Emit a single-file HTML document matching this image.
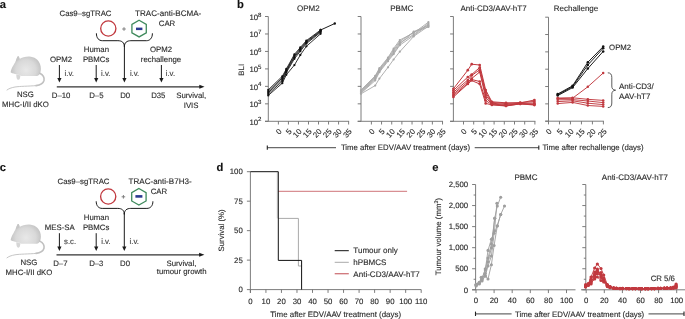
<!DOCTYPE html>
<html><head><meta charset="utf-8"><style>
html,body{margin:0;padding:0;background:#fff;width:685px;height:319px;overflow:hidden;}
svg{display:block;will-change:transform;}
text{text-rendering:geometricPrecision;font-family:"Liberation Sans",sans-serif;font-size:7.8px;fill:#2a2a2a;stroke:#2a2a2a;stroke-width:0.12px;}
</style></head><body>
<svg width="685" height="319" viewBox="0 0 685 319">
<defs><radialGradient id="mg" gradientUnits="userSpaceOnUse" cx="26" cy="70" r="18"><stop offset="0" stop-color="#e8e8e8"/><stop offset="0.55" stop-color="#d9d9d9"/><stop offset="1" stop-color="#b9b9b9"/></radialGradient></defs>
<rect width="685" height="319" fill="#fff"/>
<text x="-0.30" y="7.90" style="font-size:11.2px;fill:#111;stroke:#111;font-weight:bold" >a</text>
<text x="85.50" y="16.00" text-anchor="middle" >Cas9–sgTRAC</text>
<circle cx="108.3" cy="28.5" r="7.6" fill="none" stroke="#c1393f" stroke-width="1.35"/>
<line x1="122.20" y1="29.00" x2="125.80" y2="29.00" stroke="#7a7a7a" stroke-width="0.95" />
<line x1="124.00" y1="27.20" x2="124.00" y2="30.80" stroke="#7a7a7a" stroke-width="0.95" />
<polygon points="139.10,20.30 146.29,24.45 146.29,32.75 139.10,36.90 131.91,32.75 131.91,24.45" fill="none" stroke="#3f8a5c" stroke-width="1.3"/>
<rect x="136" y="27.6" width="6.4" height="2.5" fill="#2b3990"/>
<text x="168.20" y="16.00" text-anchor="middle" style="font-size:8.05px" >TRAC-anti-BCMA-</text>
<text x="167.00" y="25.70" text-anchor="middle" >CAR</text>
<path d="M96.4,33.3 C96.4,38.2 98.9,40.7 102.4,40.7 L117.9,40.7 C121.9,40.7 124.4,42.5 124.4,46.7 M152.4,33.3 C152.4,38.2 149.9,40.7 146.4,40.7 L130.9,40.7 C126.9,40.7 124.4,42.5 124.4,46.7" stroke="#1a1a1a" stroke-width="1" fill="none" />
<line x1="59.40" y1="65.00" x2="59.40" y2="79.00" stroke="#1a1a1a" stroke-width="1" />
<polygon points="57.30,77.90 61.50,77.90 59.40,82.50" fill="#1a1a1a"/>
<line x1="96.20" y1="65.00" x2="96.20" y2="79.00" stroke="#1a1a1a" stroke-width="1" />
<polygon points="94.10,77.90 98.30,77.90 96.20,82.50" fill="#1a1a1a"/>
<line x1="124.40" y1="45.00" x2="124.40" y2="79.00" stroke="#1a1a1a" stroke-width="1" />
<polygon points="122.30,77.90 126.50,77.90 124.40,82.50" fill="#1a1a1a"/>
<line x1="161.40" y1="65.00" x2="161.40" y2="79.00" stroke="#1a1a1a" stroke-width="1" />
<polygon points="159.30,77.90 163.50,77.90 161.40,82.50" fill="#1a1a1a"/>
<line x1="56.80" y1="86.80" x2="200.50" y2="86.80" stroke="#333" stroke-width="1.15" />
<polygon points="199.3,84.8 204.5,86.8 199.3,88.8" fill="#1a1a1a"/>
<text x="61.00" y="61.90" text-anchor="middle" >OPM2</text>
<text x="96.40" y="51.50" text-anchor="middle" >Human</text>
<text x="96.10" y="61.90" text-anchor="middle" >PBMCs</text>
<text x="161.00" y="51.90" text-anchor="middle" >OPM2</text>
<text x="161.00" y="61.60" text-anchor="middle" >rechallenge</text>
<text x="64.50" y="76.40" style="fill:#444;stroke:#444" >i.v.</text>
<text x="101.00" y="76.40" style="fill:#444;stroke:#444" >i.v.</text>
<text x="129.90" y="76.40" style="fill:#444;stroke:#444" >i.v.</text>
<text x="165.70" y="76.40" style="fill:#444;stroke:#444" >i.v.</text>
<text x="61.10" y="97.80" text-anchor="middle" >D–10</text>
<text x="96.40" y="97.80" text-anchor="middle" >D–5</text>
<text x="125.20" y="97.80" text-anchor="middle" >D0</text>
<text x="158.30" y="97.80" text-anchor="middle" >D35</text>
<text x="191.20" y="97.80" text-anchor="middle" >Survival,</text>
<text x="191.10" y="107.80" text-anchor="middle" >IVIS</text>
<text x="25.40" y="97.40" text-anchor="middle" >NSG</text>
<text x="25.50" y="106.80" text-anchor="middle" >MHC-I/II dKO</text>
<g transform="translate(0,0)"><path d="M10.7,72.0 C11.0,70.0 12.0,67.5 13.3,65.6 C14.0,64.3 14.8,63.0 15.5,61.8 L16.8,58.2 C17.2,57.0 17.8,56.2 18.3,56.3 C18.8,56.4 19.3,57.4 19.6,59.1 C21.5,57.8 25.0,56.7 29.0,56.6 C34.5,56.8 38.5,60.0 40.0,64.0 C41.2,67.2 41.2,70.8 40.0,73.5 C39.0,75.5 37.5,76.0 36.0,76.0 L22.0,76.0 C21.0,76.0 20.4,75.8 20.0,75.2 L16.5,74.3 C14.5,74.0 12.5,73.3 11.3,72.8 C10.9,72.6 10.6,72.3 10.7,72.0 Z" fill="url(#mg)"/><path d="M15.5,61.8 L16.8,58.2 C17.2,57.0 17.8,56.2 18.3,56.3 C18.8,56.4 19.3,57.4 19.6,59.1 C18.5,60.0 17.0,61.0 15.5,61.8 Z" fill="#c6c6c6"/><path d="M16.4,74.2 C16.2,76.0 16.4,78.2 17.2,79.3 C18.0,80.2 19.4,80.0 19.8,78.8 L20.5,75.6 Z" fill="#d6d6d6"/><path d="M39.8,73.3 C43.0,75.0 44.6,77.5 44.0,80.5 C43.3,83.0 40.5,85.0 36.0,85.6" stroke="#c0c0c0" stroke-width="1.6" fill="none" stroke-linecap="round"/><path d="M36.0,85.6 C28.0,86.3 20.0,86.2 15.0,87.0 C11.0,87.7 8.5,88.8 7.0,90.0" stroke="#c6c6c6" stroke-width="1.0" fill="none" stroke-linecap="round"/></g>
<text x="-0.30" y="170.90" style="font-size:11.2px;fill:#111;stroke:#111;font-weight:bold" >c</text>
<text x="83.50" y="184.00" text-anchor="middle" >Cas9–sgTRAC</text>
<circle cx="108.2" cy="196.5" r="7.6" fill="none" stroke="#c1393f" stroke-width="1.35"/>
<line x1="121.60" y1="196.80" x2="125.20" y2="196.80" stroke="#7a7a7a" stroke-width="0.95" />
<line x1="123.40" y1="195.00" x2="123.40" y2="198.60" stroke="#7a7a7a" stroke-width="0.95" />
<polygon points="138.90,188.50 146.09,192.65 146.09,200.95 138.90,205.10 131.71,200.95 131.71,192.65" fill="none" stroke="#3f8a5c" stroke-width="1.3"/>
<rect x="135.4" y="195.1" width="7.0" height="2.6" fill="#2b3990"/>
<text x="160.10" y="184.00" text-anchor="middle" style="font-size:8.05px" >TRAC-anti-B7H3-</text>
<text x="158.90" y="193.60" text-anchor="middle" >CAR</text>
<path d="M96.2,201.3 C96.2,205.9 98.7,208.4 102.2,208.4 L117.8,208.4 C121.8,208.4 124.3,210.20000000000002 124.3,214.4 M152.9,201.3 C152.9,205.9 150.4,208.4 146.9,208.4 L130.8,208.4 C126.8,208.4 124.3,210.20000000000002 124.3,214.4" stroke="#1a1a1a" stroke-width="1" fill="none" />
<line x1="59.40" y1="233.20" x2="59.40" y2="247.50" stroke="#1a1a1a" stroke-width="1" />
<polygon points="57.30,246.40 61.50,246.40 59.40,251.00" fill="#1a1a1a"/>
<line x1="96.20" y1="233.20" x2="96.20" y2="247.50" stroke="#1a1a1a" stroke-width="1" />
<polygon points="94.10,246.40 98.30,246.40 96.20,251.00" fill="#1a1a1a"/>
<line x1="124.30" y1="213.00" x2="124.30" y2="247.50" stroke="#1a1a1a" stroke-width="1" />
<polygon points="122.20,246.40 126.40,246.40 124.30,251.00" fill="#1a1a1a"/>
<line x1="56.50" y1="254.80" x2="200.30" y2="254.80" stroke="#333" stroke-width="1.15" />
<polygon points="199.1,252.8 204.4,254.8 199.1,256.8" fill="#1a1a1a"/>
<text x="59.75" y="229.80" text-anchor="middle" >MES-SA</text>
<text x="96.40" y="219.80" text-anchor="middle" >Human</text>
<text x="96.10" y="229.80" text-anchor="middle" >PBMCs</text>
<text x="64.00" y="244.40" style="fill:#444;stroke:#444" >s.c.</text>
<text x="101.20" y="244.40" style="fill:#444;stroke:#444" >i.v.</text>
<text x="129.60" y="244.40" style="fill:#444;stroke:#444" >i.v.</text>
<text x="60.40" y="265.70" text-anchor="middle" >D–7</text>
<text x="96.30" y="265.70" text-anchor="middle" >D–3</text>
<text x="125.10" y="265.70" text-anchor="middle" >D0</text>
<text x="181.40" y="265.70" text-anchor="middle" >Survival,</text>
<text x="181.70" y="274.40" text-anchor="middle" >tumour growth</text>
<text x="28.90" y="265.20" text-anchor="middle" >NSG</text>
<text x="29.00" y="274.70" text-anchor="middle" >MHC-I/II dKO</text>
<g transform="translate(0,167.8)"><path d="M10.7,72.0 C11.0,70.0 12.0,67.5 13.3,65.6 C14.0,64.3 14.8,63.0 15.5,61.8 L16.8,58.2 C17.2,57.0 17.8,56.2 18.3,56.3 C18.8,56.4 19.3,57.4 19.6,59.1 C21.5,57.8 25.0,56.7 29.0,56.6 C34.5,56.8 38.5,60.0 40.0,64.0 C41.2,67.2 41.2,70.8 40.0,73.5 C39.0,75.5 37.5,76.0 36.0,76.0 L22.0,76.0 C21.0,76.0 20.4,75.8 20.0,75.2 L16.5,74.3 C14.5,74.0 12.5,73.3 11.3,72.8 C10.9,72.6 10.6,72.3 10.7,72.0 Z" fill="url(#mg)"/><path d="M15.5,61.8 L16.8,58.2 C17.2,57.0 17.8,56.2 18.3,56.3 C18.8,56.4 19.3,57.4 19.6,59.1 C18.5,60.0 17.0,61.0 15.5,61.8 Z" fill="#c6c6c6"/><path d="M16.4,74.2 C16.2,76.0 16.4,78.2 17.2,79.3 C18.0,80.2 19.4,80.0 19.8,78.8 L20.5,75.6 Z" fill="#d6d6d6"/><path d="M39.8,73.3 C43.0,75.0 44.6,77.5 44.0,80.5 C43.3,83.0 40.5,85.0 36.0,85.6" stroke="#c0c0c0" stroke-width="1.6" fill="none" stroke-linecap="round"/><path d="M36.0,85.6 C28.0,86.3 20.0,86.2 15.0,87.0 C11.0,87.7 8.5,88.8 7.0,90.0" stroke="#c6c6c6" stroke-width="1.0" fill="none" stroke-linecap="round"/></g>
<text x="237.00" y="7.60" style="font-size:11.2px;fill:#111;stroke:#111;font-weight:bold" >b</text>
<text x="308.40" y="10.90" text-anchor="middle" style="font-size:8.0px" >OPM2</text>
<text x="401.80" y="10.90" text-anchor="middle" style="font-size:8.0px" >PBMC</text>
<text x="493.60" y="10.90" text-anchor="middle" style="font-size:8.0px" >Anti-CD3/AAV-hT7</text>
<text x="576.00" y="10.90" text-anchor="middle" style="font-size:8.0px" >Rechallenge</text>
<line x1="268.30" y1="16.50" x2="268.30" y2="121.30" stroke="#6e6e6e" stroke-width="0.9" />
<line x1="265.00" y1="16.50" x2="268.30" y2="16.50" stroke="#6e6e6e" stroke-width="0.9" />
<line x1="265.00" y1="33.97" x2="268.30" y2="33.97" stroke="#6e6e6e" stroke-width="0.9" />
<line x1="265.00" y1="51.43" x2="268.30" y2="51.43" stroke="#6e6e6e" stroke-width="0.9" />
<line x1="265.00" y1="68.90" x2="268.30" y2="68.90" stroke="#6e6e6e" stroke-width="0.9" />
<line x1="265.00" y1="86.37" x2="268.30" y2="86.37" stroke="#6e6e6e" stroke-width="0.9" />
<line x1="265.00" y1="103.83" x2="268.30" y2="103.83" stroke="#6e6e6e" stroke-width="0.9" />
<line x1="265.00" y1="121.30" x2="268.30" y2="121.30" stroke="#6e6e6e" stroke-width="0.9" />
<line x1="265.00" y1="121.30" x2="349.11" y2="121.30" stroke="#6e6e6e" stroke-width="0.9" />
<line x1="278.40" y1="121.30" x2="278.40" y2="124.50" stroke="#6e6e6e" stroke-width="0.9" />
<text transform="translate(282.10,131.80) rotate(-47)" text-anchor="end" style="font-size:7.8px">0</text>
<line x1="288.43" y1="121.30" x2="288.43" y2="124.50" stroke="#6e6e6e" stroke-width="0.9" />
<text transform="translate(292.13,131.80) rotate(-47)" text-anchor="end" style="font-size:7.8px">5</text>
<line x1="298.46" y1="121.30" x2="298.46" y2="124.50" stroke="#6e6e6e" stroke-width="0.9" />
<text transform="translate(302.16,131.80) rotate(-47)" text-anchor="end" style="font-size:7.8px">10</text>
<line x1="308.49" y1="121.30" x2="308.49" y2="124.50" stroke="#6e6e6e" stroke-width="0.9" />
<text transform="translate(312.19,131.80) rotate(-47)" text-anchor="end" style="font-size:7.8px">15</text>
<line x1="318.52" y1="121.30" x2="318.52" y2="124.50" stroke="#6e6e6e" stroke-width="0.9" />
<text transform="translate(322.22,131.80) rotate(-47)" text-anchor="end" style="font-size:7.8px">20</text>
<line x1="328.55" y1="121.30" x2="328.55" y2="124.50" stroke="#6e6e6e" stroke-width="0.9" />
<text transform="translate(332.25,131.80) rotate(-47)" text-anchor="end" style="font-size:7.8px">25</text>
<line x1="338.58" y1="121.30" x2="338.58" y2="124.50" stroke="#6e6e6e" stroke-width="0.9" />
<text transform="translate(342.28,131.80) rotate(-47)" text-anchor="end" style="font-size:7.8px">30</text>
<line x1="348.61" y1="121.30" x2="348.61" y2="124.50" stroke="#6e6e6e" stroke-width="0.9" />
<text transform="translate(352.31,131.80) rotate(-47)" text-anchor="end" style="font-size:7.8px">35</text>
<line x1="361.00" y1="16.50" x2="361.00" y2="121.30" stroke="#6e6e6e" stroke-width="0.9" />
<line x1="357.70" y1="16.50" x2="361.00" y2="16.50" stroke="#6e6e6e" stroke-width="0.9" />
<line x1="357.70" y1="33.97" x2="361.00" y2="33.97" stroke="#6e6e6e" stroke-width="0.9" />
<line x1="357.70" y1="51.43" x2="361.00" y2="51.43" stroke="#6e6e6e" stroke-width="0.9" />
<line x1="357.70" y1="68.90" x2="361.00" y2="68.90" stroke="#6e6e6e" stroke-width="0.9" />
<line x1="357.70" y1="86.37" x2="361.00" y2="86.37" stroke="#6e6e6e" stroke-width="0.9" />
<line x1="357.70" y1="103.83" x2="361.00" y2="103.83" stroke="#6e6e6e" stroke-width="0.9" />
<line x1="357.70" y1="121.30" x2="361.00" y2="121.30" stroke="#6e6e6e" stroke-width="0.9" />
<line x1="357.70" y1="121.30" x2="443.02" y2="121.30" stroke="#6e6e6e" stroke-width="0.9" />
<line x1="371.40" y1="121.30" x2="371.40" y2="124.50" stroke="#6e6e6e" stroke-width="0.9" />
<text transform="translate(375.10,131.80) rotate(-47)" text-anchor="end" style="font-size:7.8px">0</text>
<line x1="381.56" y1="121.30" x2="381.56" y2="124.50" stroke="#6e6e6e" stroke-width="0.9" />
<text transform="translate(385.26,131.80) rotate(-47)" text-anchor="end" style="font-size:7.8px">5</text>
<line x1="391.72" y1="121.30" x2="391.72" y2="124.50" stroke="#6e6e6e" stroke-width="0.9" />
<text transform="translate(395.42,131.80) rotate(-47)" text-anchor="end" style="font-size:7.8px">10</text>
<line x1="401.88" y1="121.30" x2="401.88" y2="124.50" stroke="#6e6e6e" stroke-width="0.9" />
<text transform="translate(405.58,131.80) rotate(-47)" text-anchor="end" style="font-size:7.8px">15</text>
<line x1="412.04" y1="121.30" x2="412.04" y2="124.50" stroke="#6e6e6e" stroke-width="0.9" />
<text transform="translate(415.74,131.80) rotate(-47)" text-anchor="end" style="font-size:7.8px">20</text>
<line x1="422.20" y1="121.30" x2="422.20" y2="124.50" stroke="#6e6e6e" stroke-width="0.9" />
<text transform="translate(425.90,131.80) rotate(-47)" text-anchor="end" style="font-size:7.8px">25</text>
<line x1="432.36" y1="121.30" x2="432.36" y2="124.50" stroke="#6e6e6e" stroke-width="0.9" />
<text transform="translate(436.06,131.80) rotate(-47)" text-anchor="end" style="font-size:7.8px">30</text>
<line x1="442.52" y1="121.30" x2="442.52" y2="124.50" stroke="#6e6e6e" stroke-width="0.9" />
<text transform="translate(446.22,131.80) rotate(-47)" text-anchor="end" style="font-size:7.8px">35</text>
<line x1="453.40" y1="16.50" x2="453.40" y2="121.30" stroke="#6e6e6e" stroke-width="0.9" />
<line x1="450.10" y1="16.50" x2="453.40" y2="16.50" stroke="#6e6e6e" stroke-width="0.9" />
<line x1="450.10" y1="33.97" x2="453.40" y2="33.97" stroke="#6e6e6e" stroke-width="0.9" />
<line x1="450.10" y1="51.43" x2="453.40" y2="51.43" stroke="#6e6e6e" stroke-width="0.9" />
<line x1="450.10" y1="68.90" x2="453.40" y2="68.90" stroke="#6e6e6e" stroke-width="0.9" />
<line x1="450.10" y1="86.37" x2="453.40" y2="86.37" stroke="#6e6e6e" stroke-width="0.9" />
<line x1="450.10" y1="103.83" x2="453.40" y2="103.83" stroke="#6e6e6e" stroke-width="0.9" />
<line x1="450.10" y1="121.30" x2="453.40" y2="121.30" stroke="#6e6e6e" stroke-width="0.9" />
<line x1="450.10" y1="121.30" x2="535.40" y2="121.30" stroke="#6e6e6e" stroke-width="0.9" />
<line x1="463.50" y1="121.30" x2="463.50" y2="124.50" stroke="#6e6e6e" stroke-width="0.9" />
<text transform="translate(467.20,131.80) rotate(-47)" text-anchor="end" style="font-size:7.8px">0</text>
<line x1="473.70" y1="121.30" x2="473.70" y2="124.50" stroke="#6e6e6e" stroke-width="0.9" />
<text transform="translate(477.40,131.80) rotate(-47)" text-anchor="end" style="font-size:7.8px">5</text>
<line x1="483.90" y1="121.30" x2="483.90" y2="124.50" stroke="#6e6e6e" stroke-width="0.9" />
<text transform="translate(487.60,131.80) rotate(-47)" text-anchor="end" style="font-size:7.8px">10</text>
<line x1="494.10" y1="121.30" x2="494.10" y2="124.50" stroke="#6e6e6e" stroke-width="0.9" />
<text transform="translate(497.80,131.80) rotate(-47)" text-anchor="end" style="font-size:7.8px">15</text>
<line x1="504.30" y1="121.30" x2="504.30" y2="124.50" stroke="#6e6e6e" stroke-width="0.9" />
<text transform="translate(508.00,131.80) rotate(-47)" text-anchor="end" style="font-size:7.8px">20</text>
<line x1="514.50" y1="121.30" x2="514.50" y2="124.50" stroke="#6e6e6e" stroke-width="0.9" />
<text transform="translate(518.20,131.80) rotate(-47)" text-anchor="end" style="font-size:7.8px">25</text>
<line x1="524.70" y1="121.30" x2="524.70" y2="124.50" stroke="#6e6e6e" stroke-width="0.9" />
<text transform="translate(528.40,131.80) rotate(-47)" text-anchor="end" style="font-size:7.8px">30</text>
<line x1="534.90" y1="121.30" x2="534.90" y2="124.50" stroke="#6e6e6e" stroke-width="0.9" />
<text transform="translate(538.60,131.80) rotate(-47)" text-anchor="end" style="font-size:7.8px">35</text>
<line x1="548.50" y1="17.20" x2="548.50" y2="121.20" stroke="#6e6e6e" stroke-width="0.9" />
<line x1="545.20" y1="17.20" x2="548.50" y2="17.20" stroke="#6e6e6e" stroke-width="0.9" />
<line x1="545.20" y1="34.53" x2="548.50" y2="34.53" stroke="#6e6e6e" stroke-width="0.9" />
<line x1="545.20" y1="51.87" x2="548.50" y2="51.87" stroke="#6e6e6e" stroke-width="0.9" />
<line x1="545.20" y1="69.20" x2="548.50" y2="69.20" stroke="#6e6e6e" stroke-width="0.9" />
<line x1="545.20" y1="86.53" x2="548.50" y2="86.53" stroke="#6e6e6e" stroke-width="0.9" />
<line x1="545.20" y1="103.87" x2="548.50" y2="103.87" stroke="#6e6e6e" stroke-width="0.9" />
<line x1="545.20" y1="121.20" x2="548.50" y2="121.20" stroke="#6e6e6e" stroke-width="0.9" />
<line x1="545.20" y1="121.20" x2="603.90" y2="121.20" stroke="#6e6e6e" stroke-width="0.9" />
<line x1="548.50" y1="121.20" x2="548.50" y2="124.40" stroke="#6e6e6e" stroke-width="0.9" />
<text transform="translate(552.20,131.70) rotate(-47)" text-anchor="end" style="font-size:7.8px">0</text>
<line x1="559.48" y1="121.20" x2="559.48" y2="124.40" stroke="#6e6e6e" stroke-width="0.9" />
<text transform="translate(563.18,131.70) rotate(-47)" text-anchor="end" style="font-size:7.8px">5</text>
<line x1="570.46" y1="121.20" x2="570.46" y2="124.40" stroke="#6e6e6e" stroke-width="0.9" />
<text transform="translate(574.16,131.70) rotate(-47)" text-anchor="end" style="font-size:7.8px">10</text>
<line x1="581.44" y1="121.20" x2="581.44" y2="124.40" stroke="#6e6e6e" stroke-width="0.9" />
<text transform="translate(585.14,131.70) rotate(-47)" text-anchor="end" style="font-size:7.8px">15</text>
<line x1="592.42" y1="121.20" x2="592.42" y2="124.40" stroke="#6e6e6e" stroke-width="0.9" />
<text transform="translate(596.12,131.70) rotate(-47)" text-anchor="end" style="font-size:7.8px">20</text>
<line x1="603.40" y1="121.20" x2="603.40" y2="124.40" stroke="#6e6e6e" stroke-width="0.9" />
<text transform="translate(607.10,131.70) rotate(-47)" text-anchor="end" style="font-size:7.8px">25</text>
<text x="258.10" y="19.90" text-anchor="end">10</text><text x="258.00" y="16.60" style="font-size:6.1px">8</text>
<text x="258.10" y="37.37" text-anchor="end">10</text><text x="258.00" y="34.07" style="font-size:6.1px">7</text>
<text x="258.10" y="54.83" text-anchor="end">10</text><text x="258.00" y="51.53" style="font-size:6.1px">6</text>
<text x="258.10" y="72.30" text-anchor="end">10</text><text x="258.00" y="69.00" style="font-size:6.1px">5</text>
<text x="258.10" y="89.77" text-anchor="end">10</text><text x="258.00" y="86.47" style="font-size:6.1px">4</text>
<text x="258.10" y="107.23" text-anchor="end">10</text><text x="258.00" y="103.93" style="font-size:6.1px">3</text>
<text x="258.10" y="124.70" text-anchor="end">10</text><text x="258.00" y="121.40" style="font-size:6.1px">2</text>
<text transform="translate(243.9,69.8) rotate(-90)" text-anchor="middle">BLI</text>
<line x1="267.30" y1="147.50" x2="336.00" y2="147.50" stroke="#6a6a6a" stroke-width="1.25" />
<line x1="267.30" y1="145.40" x2="267.30" y2="149.80" stroke="#222" stroke-width="1.1" />
<text x="340.90" y="150.40" >Time after EDV/AAV treatment (days)</text>
<line x1="474.70" y1="147.50" x2="538.80" y2="147.50" stroke="#6a6a6a" stroke-width="1.25" />
<line x1="538.80" y1="145.40" x2="538.80" y2="149.80" stroke="#222" stroke-width="1.1" />
<text x="542.40" y="150.40" >Time after rechallenge (days)</text>
<path d="M268.30,89.80 L282.30,76.30 L286.30,69.00 L294.40,54.40 L300.30,47.50 L306.40,40.60 L320.60,30.00" stroke="#111" stroke-width="0.85" fill="none"  stroke-linejoin="round"/>
<circle cx="268.30" cy="89.80" r="1.15" fill="#111"/>
<circle cx="282.30" cy="76.30" r="1.15" fill="#111"/>
<circle cx="286.30" cy="69.00" r="1.15" fill="#111"/>
<circle cx="294.40" cy="54.40" r="1.15" fill="#111"/>
<circle cx="300.30" cy="47.50" r="1.15" fill="#111"/>
<circle cx="306.40" cy="40.60" r="1.15" fill="#111"/>
<circle cx="320.60" cy="30.00" r="1.15" fill="#111"/>
<path d="M268.30,91.20 L282.30,77.80 L286.30,70.20 L294.40,55.80 L300.30,48.60 L306.40,41.50 L320.60,30.80" stroke="#111" stroke-width="0.85" fill="none"  stroke-linejoin="round"/>
<circle cx="268.30" cy="91.20" r="1.15" fill="#111"/>
<circle cx="282.30" cy="77.80" r="1.15" fill="#111"/>
<circle cx="286.30" cy="70.20" r="1.15" fill="#111"/>
<circle cx="294.40" cy="55.80" r="1.15" fill="#111"/>
<circle cx="300.30" cy="48.60" r="1.15" fill="#111"/>
<circle cx="306.40" cy="41.50" r="1.15" fill="#111"/>
<circle cx="320.60" cy="30.80" r="1.15" fill="#111"/>
<path d="M268.30,92.60 L282.30,79.40 L286.30,71.40 L294.40,57.20 L300.30,49.80 L306.40,42.50 L320.60,31.50" stroke="#111" stroke-width="0.85" fill="none"  stroke-linejoin="round"/>
<circle cx="268.30" cy="92.60" r="1.15" fill="#111"/>
<circle cx="282.30" cy="79.40" r="1.15" fill="#111"/>
<circle cx="286.30" cy="71.40" r="1.15" fill="#111"/>
<circle cx="294.40" cy="57.20" r="1.15" fill="#111"/>
<circle cx="300.30" cy="49.80" r="1.15" fill="#111"/>
<circle cx="306.40" cy="42.50" r="1.15" fill="#111"/>
<circle cx="320.60" cy="31.50" r="1.15" fill="#111"/>
<path d="M268.30,94.00 L282.30,81.20 L286.30,72.60 L294.40,58.80 L300.30,51.20 L306.40,43.60 L320.60,32.30" stroke="#111" stroke-width="0.85" fill="none"  stroke-linejoin="round"/>
<circle cx="268.30" cy="94.00" r="1.15" fill="#111"/>
<circle cx="282.30" cy="81.20" r="1.15" fill="#111"/>
<circle cx="286.30" cy="72.60" r="1.15" fill="#111"/>
<circle cx="294.40" cy="58.80" r="1.15" fill="#111"/>
<circle cx="300.30" cy="51.20" r="1.15" fill="#111"/>
<circle cx="306.40" cy="43.60" r="1.15" fill="#111"/>
<circle cx="320.60" cy="32.30" r="1.15" fill="#111"/>
<path d="M268.30,95.40 L282.30,83.20 L286.30,74.80 L294.40,65.10 L300.30,55.00 L306.40,46.30 L320.60,33.80" stroke="#111" stroke-width="0.85" fill="none"  stroke-linejoin="round"/>
<circle cx="268.30" cy="95.40" r="1.15" fill="#111"/>
<circle cx="282.30" cy="83.20" r="1.15" fill="#111"/>
<circle cx="286.30" cy="74.80" r="1.15" fill="#111"/>
<circle cx="294.40" cy="65.10" r="1.15" fill="#111"/>
<circle cx="300.30" cy="55.00" r="1.15" fill="#111"/>
<circle cx="306.40" cy="46.30" r="1.15" fill="#111"/>
<circle cx="320.60" cy="33.80" r="1.15" fill="#111"/>
<path d="M320.60,30.00 L334.80,23.50" stroke="#111" stroke-width="0.95" fill="none"  stroke-linejoin="round"/>
<circle cx="320.60" cy="30.00" r="1.2" fill="#111"/>
<circle cx="334.80" cy="23.50" r="1.2" fill="#111"/>
<path d="M361.00,90.00 L375.20,75.80 L379.40,68.20 L388.00,57.60 L393.60,48.50 L399.80,40.00 L413.70,33.00 L428.40,22.20" stroke="#a8a8a8" stroke-width="0.9" fill="none"  stroke-linejoin="round"/>
<circle cx="361.00" cy="90.00" r="1.1" fill="#a8a8a8"/>
<circle cx="375.20" cy="75.80" r="1.1" fill="#a8a8a8"/>
<circle cx="379.40" cy="68.20" r="1.1" fill="#a8a8a8"/>
<circle cx="388.00" cy="57.60" r="1.1" fill="#a8a8a8"/>
<circle cx="393.60" cy="48.50" r="1.1" fill="#a8a8a8"/>
<circle cx="399.80" cy="40.00" r="1.1" fill="#a8a8a8"/>
<circle cx="413.70" cy="33.00" r="1.1" fill="#a8a8a8"/>
<circle cx="428.40" cy="22.20" r="1.1" fill="#a8a8a8"/>
<path d="M361.00,91.00 L375.20,76.80 L379.40,69.20 L388.00,58.50 L393.60,50.00 L399.80,41.50 L413.70,32.00 L428.40,27.00" stroke="#a8a8a8" stroke-width="0.9" fill="none"  stroke-linejoin="round"/>
<circle cx="361.00" cy="91.00" r="1.1" fill="#a8a8a8"/>
<circle cx="375.20" cy="76.80" r="1.1" fill="#a8a8a8"/>
<circle cx="379.40" cy="69.20" r="1.1" fill="#a8a8a8"/>
<circle cx="388.00" cy="58.50" r="1.1" fill="#a8a8a8"/>
<circle cx="393.60" cy="50.00" r="1.1" fill="#a8a8a8"/>
<circle cx="399.80" cy="41.50" r="1.1" fill="#a8a8a8"/>
<circle cx="413.70" cy="32.00" r="1.1" fill="#a8a8a8"/>
<circle cx="428.40" cy="27.00" r="1.1" fill="#a8a8a8"/>
<path d="M361.00,91.80 L375.20,78.00 L379.40,70.20 L388.00,59.30 L393.60,51.50 L399.80,42.80 L413.70,34.50 L428.40,23.50" stroke="#a8a8a8" stroke-width="0.9" fill="none"  stroke-linejoin="round"/>
<circle cx="361.00" cy="91.80" r="1.1" fill="#a8a8a8"/>
<circle cx="375.20" cy="78.00" r="1.1" fill="#a8a8a8"/>
<circle cx="379.40" cy="70.20" r="1.1" fill="#a8a8a8"/>
<circle cx="388.00" cy="59.30" r="1.1" fill="#a8a8a8"/>
<circle cx="393.60" cy="51.50" r="1.1" fill="#a8a8a8"/>
<circle cx="399.80" cy="42.80" r="1.1" fill="#a8a8a8"/>
<circle cx="413.70" cy="34.50" r="1.1" fill="#a8a8a8"/>
<circle cx="428.40" cy="23.50" r="1.1" fill="#a8a8a8"/>
<path d="M361.00,92.60 L375.20,79.20 L379.40,71.20 L388.00,60.20 L393.60,53.00 L399.80,44.20 L413.70,31.60 L428.40,25.50" stroke="#a8a8a8" stroke-width="0.9" fill="none"  stroke-linejoin="round"/>
<circle cx="361.00" cy="92.60" r="1.1" fill="#a8a8a8"/>
<circle cx="375.20" cy="79.20" r="1.1" fill="#a8a8a8"/>
<circle cx="379.40" cy="71.20" r="1.1" fill="#a8a8a8"/>
<circle cx="388.00" cy="60.20" r="1.1" fill="#a8a8a8"/>
<circle cx="393.60" cy="53.00" r="1.1" fill="#a8a8a8"/>
<circle cx="399.80" cy="44.20" r="1.1" fill="#a8a8a8"/>
<circle cx="413.70" cy="31.60" r="1.1" fill="#a8a8a8"/>
<circle cx="428.40" cy="25.50" r="1.1" fill="#a8a8a8"/>
<path d="M361.00,93.20 L375.20,80.50 L379.40,72.20 L388.00,61.20 L393.60,54.20 L399.80,45.20 L413.70,35.50 L428.40,24.50" stroke="#a8a8a8" stroke-width="0.9" fill="none"  stroke-linejoin="round"/>
<circle cx="361.00" cy="93.20" r="1.1" fill="#a8a8a8"/>
<circle cx="375.20" cy="80.50" r="1.1" fill="#a8a8a8"/>
<circle cx="379.40" cy="72.20" r="1.1" fill="#a8a8a8"/>
<circle cx="388.00" cy="61.20" r="1.1" fill="#a8a8a8"/>
<circle cx="393.60" cy="54.20" r="1.1" fill="#a8a8a8"/>
<circle cx="399.80" cy="45.20" r="1.1" fill="#a8a8a8"/>
<circle cx="413.70" cy="35.50" r="1.1" fill="#a8a8a8"/>
<circle cx="428.40" cy="24.50" r="1.1" fill="#a8a8a8"/>
<path d="M361.00,93.80 L375.20,85.60 L379.40,78.60 L388.00,67.30 L393.60,59.50 L399.80,51.70 L413.70,36.40 L428.40,26.20" stroke="#a8a8a8" stroke-width="0.9" fill="none"  stroke-linejoin="round"/>
<circle cx="361.00" cy="93.80" r="1.1" fill="#a8a8a8"/>
<circle cx="375.20" cy="85.60" r="1.1" fill="#a8a8a8"/>
<circle cx="379.40" cy="78.60" r="1.1" fill="#a8a8a8"/>
<circle cx="388.00" cy="67.30" r="1.1" fill="#a8a8a8"/>
<circle cx="393.60" cy="59.50" r="1.1" fill="#a8a8a8"/>
<circle cx="399.80" cy="51.70" r="1.1" fill="#a8a8a8"/>
<circle cx="413.70" cy="36.40" r="1.1" fill="#a8a8a8"/>
<circle cx="428.40" cy="26.20" r="1.1" fill="#a8a8a8"/>
<path d="M453.40,88.80 L467.80,70.20 L471.70,64.20 L479.70,65.00 L485.70,90.00 L491.90,101.80 L506.00,102.80 L520.20,103.00 L534.40,100.00" stroke="#c1393f" stroke-width="1.0" fill="none"  stroke-linejoin="round"/>
<circle cx="453.40" cy="88.80" r="1.35" fill="#c1393f"/>
<circle cx="467.80" cy="70.20" r="1.35" fill="#c1393f"/>
<circle cx="471.70" cy="64.20" r="1.35" fill="#c1393f"/>
<circle cx="479.70" cy="65.00" r="1.35" fill="#c1393f"/>
<circle cx="485.70" cy="90.00" r="1.35" fill="#c1393f"/>
<circle cx="491.90" cy="101.80" r="1.35" fill="#c1393f"/>
<circle cx="506.00" cy="102.80" r="1.35" fill="#c1393f"/>
<circle cx="520.20" cy="103.00" r="1.35" fill="#c1393f"/>
<circle cx="534.40" cy="100.00" r="1.35" fill="#c1393f"/>
<path d="M453.40,90.50 L467.80,77.00 L471.70,74.50 L479.70,67.50 L485.70,92.50 L491.90,102.50 L506.00,103.50 L520.20,102.50 L534.40,101.50" stroke="#c1393f" stroke-width="1.0" fill="none"  stroke-linejoin="round"/>
<circle cx="453.40" cy="90.50" r="1.35" fill="#c1393f"/>
<circle cx="467.80" cy="77.00" r="1.35" fill="#c1393f"/>
<circle cx="471.70" cy="74.50" r="1.35" fill="#c1393f"/>
<circle cx="479.70" cy="67.50" r="1.35" fill="#c1393f"/>
<circle cx="485.70" cy="92.50" r="1.35" fill="#c1393f"/>
<circle cx="491.90" cy="102.50" r="1.35" fill="#c1393f"/>
<circle cx="506.00" cy="103.50" r="1.35" fill="#c1393f"/>
<circle cx="520.20" cy="102.50" r="1.35" fill="#c1393f"/>
<circle cx="534.40" cy="101.50" r="1.35" fill="#c1393f"/>
<path d="M453.40,92.30 L467.80,80.00 L471.70,75.50 L479.70,69.80 L485.70,95.00 L491.90,103.20 L506.00,104.50 L520.20,103.20 L534.40,103.00" stroke="#c1393f" stroke-width="1.0" fill="none"  stroke-linejoin="round"/>
<circle cx="453.40" cy="92.30" r="1.35" fill="#c1393f"/>
<circle cx="467.80" cy="80.00" r="1.35" fill="#c1393f"/>
<circle cx="471.70" cy="75.50" r="1.35" fill="#c1393f"/>
<circle cx="479.70" cy="69.80" r="1.35" fill="#c1393f"/>
<circle cx="485.70" cy="95.00" r="1.35" fill="#c1393f"/>
<circle cx="491.90" cy="103.20" r="1.35" fill="#c1393f"/>
<circle cx="506.00" cy="104.50" r="1.35" fill="#c1393f"/>
<circle cx="520.20" cy="103.20" r="1.35" fill="#c1393f"/>
<circle cx="534.40" cy="103.00" r="1.35" fill="#c1393f"/>
<path d="M453.40,94.00 L467.80,82.00 L471.70,78.50 L479.70,72.00 L485.70,97.50 L491.90,104.00 L506.00,105.20 L520.20,103.60 L534.40,104.00" stroke="#c1393f" stroke-width="1.0" fill="none"  stroke-linejoin="round"/>
<circle cx="453.40" cy="94.00" r="1.35" fill="#c1393f"/>
<circle cx="467.80" cy="82.00" r="1.35" fill="#c1393f"/>
<circle cx="471.70" cy="78.50" r="1.35" fill="#c1393f"/>
<circle cx="479.70" cy="72.00" r="1.35" fill="#c1393f"/>
<circle cx="485.70" cy="97.50" r="1.35" fill="#c1393f"/>
<circle cx="491.90" cy="104.00" r="1.35" fill="#c1393f"/>
<circle cx="506.00" cy="105.20" r="1.35" fill="#c1393f"/>
<circle cx="520.20" cy="103.60" r="1.35" fill="#c1393f"/>
<circle cx="534.40" cy="104.00" r="1.35" fill="#c1393f"/>
<path d="M453.40,95.50 L467.80,83.50 L471.70,79.50 L479.70,81.50 L485.70,100.50 L491.90,104.50 L506.00,105.80 L520.20,104.00 L534.40,104.60" stroke="#c1393f" stroke-width="1.0" fill="none"  stroke-linejoin="round"/>
<circle cx="453.40" cy="95.50" r="1.35" fill="#c1393f"/>
<circle cx="467.80" cy="83.50" r="1.35" fill="#c1393f"/>
<circle cx="471.70" cy="79.50" r="1.35" fill="#c1393f"/>
<circle cx="479.70" cy="81.50" r="1.35" fill="#c1393f"/>
<circle cx="485.70" cy="100.50" r="1.35" fill="#c1393f"/>
<circle cx="491.90" cy="104.50" r="1.35" fill="#c1393f"/>
<circle cx="506.00" cy="105.80" r="1.35" fill="#c1393f"/>
<circle cx="520.20" cy="104.00" r="1.35" fill="#c1393f"/>
<circle cx="534.40" cy="104.60" r="1.35" fill="#c1393f"/>
<path d="M453.40,97.00 L467.80,84.00 L471.70,80.50 L479.70,84.00 L485.70,103.40 L491.90,104.90 L506.00,106.00 L520.20,103.80 L534.40,105.10" stroke="#c1393f" stroke-width="1.0" fill="none"  stroke-linejoin="round"/>
<circle cx="453.40" cy="97.00" r="1.35" fill="#c1393f"/>
<circle cx="467.80" cy="84.00" r="1.35" fill="#c1393f"/>
<circle cx="471.70" cy="80.50" r="1.35" fill="#c1393f"/>
<circle cx="479.70" cy="84.00" r="1.35" fill="#c1393f"/>
<circle cx="485.70" cy="103.40" r="1.35" fill="#c1393f"/>
<circle cx="491.90" cy="104.90" r="1.35" fill="#c1393f"/>
<circle cx="506.00" cy="106.00" r="1.35" fill="#c1393f"/>
<circle cx="520.20" cy="103.80" r="1.35" fill="#c1393f"/>
<circle cx="534.40" cy="105.10" r="1.35" fill="#c1393f"/>
<path d="M557.70,94.00 L572.60,85.80 L587.80,62.30 L603.20,46.60" stroke="#111" stroke-width="0.95" fill="none"  stroke-linejoin="round"/>
<circle cx="557.70" cy="94.00" r="1.25" fill="#111"/>
<circle cx="572.60" cy="85.80" r="1.25" fill="#111"/>
<circle cx="587.80" cy="62.30" r="1.25" fill="#111"/>
<circle cx="603.20" cy="46.60" r="1.25" fill="#111"/>
<path d="M557.70,94.80 L572.60,86.60 L587.80,65.00 L603.20,48.20" stroke="#111" stroke-width="0.95" fill="none"  stroke-linejoin="round"/>
<circle cx="557.70" cy="94.80" r="1.25" fill="#111"/>
<circle cx="572.60" cy="86.60" r="1.25" fill="#111"/>
<circle cx="587.80" cy="65.00" r="1.25" fill="#111"/>
<circle cx="603.20" cy="48.20" r="1.25" fill="#111"/>
<path d="M557.70,95.60 L572.60,87.60 L587.80,68.60 L603.20,51.40" stroke="#111" stroke-width="0.95" fill="none"  stroke-linejoin="round"/>
<circle cx="557.70" cy="95.60" r="1.25" fill="#111"/>
<circle cx="572.60" cy="87.60" r="1.25" fill="#111"/>
<circle cx="587.80" cy="68.60" r="1.25" fill="#111"/>
<circle cx="603.20" cy="51.40" r="1.25" fill="#111"/>
<path d="M557.70,98.00 L572.60,97.80 L587.80,99.30 L603.20,100.40" stroke="#c1393f" stroke-width="0.95" fill="none"  stroke-linejoin="round"/>
<circle cx="557.70" cy="98.00" r="1.25" fill="#c1393f"/>
<circle cx="572.60" cy="97.80" r="1.25" fill="#c1393f"/>
<circle cx="587.80" cy="99.30" r="1.25" fill="#c1393f"/>
<circle cx="603.20" cy="100.40" r="1.25" fill="#c1393f"/>
<path d="M557.70,99.80 L572.60,99.60 L587.80,101.00 L603.20,102.60" stroke="#c1393f" stroke-width="0.95" fill="none"  stroke-linejoin="round"/>
<circle cx="557.70" cy="99.80" r="1.25" fill="#c1393f"/>
<circle cx="572.60" cy="99.60" r="1.25" fill="#c1393f"/>
<circle cx="587.80" cy="101.00" r="1.25" fill="#c1393f"/>
<circle cx="603.20" cy="102.60" r="1.25" fill="#c1393f"/>
<path d="M557.70,101.60 L572.60,100.80 L587.80,103.20 L603.20,104.60" stroke="#c1393f" stroke-width="0.95" fill="none"  stroke-linejoin="round"/>
<circle cx="557.70" cy="101.60" r="1.25" fill="#c1393f"/>
<circle cx="572.60" cy="100.80" r="1.25" fill="#c1393f"/>
<circle cx="587.80" cy="103.20" r="1.25" fill="#c1393f"/>
<circle cx="603.20" cy="104.60" r="1.25" fill="#c1393f"/>
<path d="M557.70,103.60 L572.60,102.40 L587.80,105.50 L603.20,106.40" stroke="#c1393f" stroke-width="0.95" fill="none"  stroke-linejoin="round"/>
<circle cx="557.70" cy="103.60" r="1.25" fill="#c1393f"/>
<circle cx="572.60" cy="102.40" r="1.25" fill="#c1393f"/>
<circle cx="587.80" cy="105.50" r="1.25" fill="#c1393f"/>
<circle cx="603.20" cy="106.40" r="1.25" fill="#c1393f"/>
<path d="M557.70,98.60 L572.60,98.20 L587.80,86.80 L603.20,73.00" stroke="#c1393f" stroke-width="0.95" fill="none"  stroke-linejoin="round"/>
<circle cx="557.70" cy="98.60" r="1.25" fill="#c1393f"/>
<circle cx="572.60" cy="98.20" r="1.25" fill="#c1393f"/>
<circle cx="587.80" cy="86.80" r="1.25" fill="#c1393f"/>
<circle cx="603.20" cy="73.00" r="1.25" fill="#c1393f"/>
<text x="609.10" y="50.00" >OPM2</text>
<path d="M607.8,72.8 C610.6,72.8 611.8,74.5 611.8,77.5 L611.8,86.0 C611.8,88.6 612.8,89.8 615.6,90.2 C612.8,90.6 611.8,91.8 611.8,94.4 L611.8,103.0 C611.8,106.0 610.6,107.6 607.8,107.6" stroke="#333" stroke-width="0.8" fill="none" />
<text x="619.00" y="88.80" style="font-size:8.0px" >Anti-CD3/</text>
<text x="619.00" y="98.70" style="font-size:8.0px" >AAV-hT7</text>
<text x="216.40" y="170.50" style="font-size:11.2px;fill:#111;stroke:#111;font-weight:bold" >d</text>
<line x1="250.40" y1="171.70" x2="250.40" y2="292.90" stroke="#6e6e6e" stroke-width="0.9" />
<line x1="246.90" y1="171.70" x2="250.40" y2="171.70" stroke="#6e6e6e" stroke-width="0.9" />
<text x="242.80" y="174.30" text-anchor="end" >100</text>
<line x1="246.90" y1="201.18" x2="250.40" y2="201.18" stroke="#6e6e6e" stroke-width="0.9" />
<text x="242.80" y="203.78" text-anchor="end" >75</text>
<line x1="246.90" y1="230.65" x2="250.40" y2="230.65" stroke="#6e6e6e" stroke-width="0.9" />
<text x="242.80" y="233.25" text-anchor="end" >50</text>
<line x1="246.90" y1="260.12" x2="250.40" y2="260.12" stroke="#6e6e6e" stroke-width="0.9" />
<text x="242.80" y="262.73" text-anchor="end" >25</text>
<line x1="246.90" y1="289.60" x2="250.40" y2="289.60" stroke="#6e6e6e" stroke-width="0.9" />
<text x="242.80" y="292.20" text-anchor="end" >0</text>
<line x1="250.40" y1="289.60" x2="421.20" y2="289.60" stroke="#6e6e6e" stroke-width="0.9" />
<line x1="250.40" y1="289.60" x2="250.40" y2="292.90" stroke="#6e6e6e" stroke-width="0.9" />
<text x="250.40" y="303.50" text-anchor="middle" >0</text>
<line x1="265.93" y1="289.60" x2="265.93" y2="292.90" stroke="#6e6e6e" stroke-width="0.9" />
<text x="265.93" y="303.50" text-anchor="middle" >10</text>
<line x1="281.45" y1="289.60" x2="281.45" y2="292.90" stroke="#6e6e6e" stroke-width="0.9" />
<text x="281.45" y="303.50" text-anchor="middle" >20</text>
<line x1="296.98" y1="289.60" x2="296.98" y2="292.90" stroke="#6e6e6e" stroke-width="0.9" />
<text x="296.98" y="303.50" text-anchor="middle" >30</text>
<line x1="312.51" y1="289.60" x2="312.51" y2="292.90" stroke="#6e6e6e" stroke-width="0.9" />
<text x="312.51" y="303.50" text-anchor="middle" >40</text>
<line x1="328.04" y1="289.60" x2="328.04" y2="292.90" stroke="#6e6e6e" stroke-width="0.9" />
<text x="328.04" y="303.50" text-anchor="middle" >50</text>
<line x1="343.56" y1="289.60" x2="343.56" y2="292.90" stroke="#6e6e6e" stroke-width="0.9" />
<text x="343.56" y="303.50" text-anchor="middle" >60</text>
<line x1="359.09" y1="289.60" x2="359.09" y2="292.90" stroke="#6e6e6e" stroke-width="0.9" />
<text x="359.09" y="303.50" text-anchor="middle" >70</text>
<line x1="374.62" y1="289.60" x2="374.62" y2="292.90" stroke="#6e6e6e" stroke-width="0.9" />
<text x="374.62" y="303.50" text-anchor="middle" >80</text>
<line x1="390.15" y1="289.60" x2="390.15" y2="292.90" stroke="#6e6e6e" stroke-width="0.9" />
<text x="390.15" y="303.50" text-anchor="middle" >90</text>
<line x1="405.67" y1="289.60" x2="405.67" y2="292.90" stroke="#6e6e6e" stroke-width="0.9" />
<text x="405.67" y="303.50" text-anchor="middle" >100</text>
<line x1="421.20" y1="289.60" x2="421.20" y2="292.90" stroke="#6e6e6e" stroke-width="0.9" />
<text x="421.20" y="303.50" text-anchor="middle" >110</text>
<text transform="translate(224.2,230.4) rotate(-90)" text-anchor="middle">Survival (%)</text>
<text x="335.70" y="316.80" text-anchor="middle" style="font-size:7.9px" >Time after EDV/AAV treatment (days)</text>
<path d="M277.3,172.2 V218.4" stroke="#c4c4c4" stroke-width="0.9" fill="none" />
<path d="M278.3,191.3 H407.1" stroke="#cf7479" stroke-width="1.0" fill="none" />
<path d="M278.3,218.4 H298.4 V266.0 H301.6" stroke="#a9a9a9" stroke-width="1.0" fill="none" />
<path d="M250.4,171.7 H278.3 V260.4 H301.6 V289.6" stroke="#111" stroke-width="1.0" fill="none" />
<line x1="334.70" y1="250.70" x2="348.80" y2="250.70" stroke="#111" stroke-width="1.0" />
<line x1="334.70" y1="262.30" x2="348.80" y2="262.30" stroke="#a9a9a9" stroke-width="1.0" />
<line x1="334.70" y1="273.70" x2="348.80" y2="273.70" stroke="#cf7479" stroke-width="1.3" />
<text x="353.30" y="253.30" style="font-size:8.05px" >Tumour only</text>
<text x="353.30" y="264.80" style="font-size:8.05px" >hPBMCS</text>
<text x="353.30" y="276.80" style="font-size:8.05px" >Anti-CD3/AAV-hT7</text>
<text x="432.20" y="170.50" style="font-size:11.2px;fill:#111;stroke:#111;font-weight:bold" >e</text>
<text x="526.00" y="180.00" text-anchor="middle" style="font-size:8.0px" >PBMC</text>
<text x="634.90" y="180.20" text-anchor="middle" style="font-size:8.0px" >Anti-CD3/AAV-hT7</text>
<line x1="475.60" y1="184.50" x2="475.60" y2="289.80" stroke="#6e6e6e" stroke-width="0.9" />
<line x1="472.10" y1="184.50" x2="475.60" y2="184.50" stroke="#6e6e6e" stroke-width="0.9" />
<line x1="473.60" y1="195.03" x2="475.60" y2="195.03" stroke="#6e6e6e" stroke-width="0.9" />
<line x1="472.10" y1="205.56" x2="475.60" y2="205.56" stroke="#6e6e6e" stroke-width="0.9" />
<line x1="473.60" y1="216.09" x2="475.60" y2="216.09" stroke="#6e6e6e" stroke-width="0.9" />
<line x1="472.10" y1="226.62" x2="475.60" y2="226.62" stroke="#6e6e6e" stroke-width="0.9" />
<line x1="473.60" y1="237.15" x2="475.60" y2="237.15" stroke="#6e6e6e" stroke-width="0.9" />
<line x1="472.10" y1="247.68" x2="475.60" y2="247.68" stroke="#6e6e6e" stroke-width="0.9" />
<line x1="473.60" y1="258.21" x2="475.60" y2="258.21" stroke="#6e6e6e" stroke-width="0.9" />
<line x1="472.10" y1="268.74" x2="475.60" y2="268.74" stroke="#6e6e6e" stroke-width="0.9" />
<line x1="473.60" y1="279.27" x2="475.60" y2="279.27" stroke="#6e6e6e" stroke-width="0.9" />
<line x1="472.10" y1="289.80" x2="475.60" y2="289.80" stroke="#6e6e6e" stroke-width="0.9" />
<line x1="472.10" y1="289.80" x2="575.50" y2="289.80" stroke="#6e6e6e" stroke-width="0.9" />
<line x1="476.00" y1="289.80" x2="476.00" y2="293.10" stroke="#6e6e6e" stroke-width="0.9" />
<text x="476.00" y="303.40" text-anchor="middle" >0</text>
<line x1="494.10" y1="289.80" x2="494.10" y2="293.10" stroke="#6e6e6e" stroke-width="0.9" />
<text x="494.10" y="303.40" text-anchor="middle" >20</text>
<line x1="512.20" y1="289.80" x2="512.20" y2="293.10" stroke="#6e6e6e" stroke-width="0.9" />
<text x="512.20" y="303.40" text-anchor="middle" >40</text>
<line x1="530.30" y1="289.80" x2="530.30" y2="293.10" stroke="#6e6e6e" stroke-width="0.9" />
<text x="530.30" y="303.40" text-anchor="middle" >60</text>
<line x1="548.40" y1="289.80" x2="548.40" y2="293.10" stroke="#6e6e6e" stroke-width="0.9" />
<text x="548.40" y="303.40" text-anchor="middle" >80</text>
<line x1="566.50" y1="289.80" x2="566.50" y2="293.10" stroke="#6e6e6e" stroke-width="0.9" />
<text x="566.50" y="303.40" text-anchor="middle" >100</text>
<line x1="585.80" y1="184.50" x2="585.80" y2="289.80" stroke="#6e6e6e" stroke-width="0.9" />
<line x1="582.30" y1="184.50" x2="585.80" y2="184.50" stroke="#6e6e6e" stroke-width="0.9" />
<line x1="583.80" y1="195.03" x2="585.80" y2="195.03" stroke="#6e6e6e" stroke-width="0.9" />
<line x1="582.30" y1="205.56" x2="585.80" y2="205.56" stroke="#6e6e6e" stroke-width="0.9" />
<line x1="583.80" y1="216.09" x2="585.80" y2="216.09" stroke="#6e6e6e" stroke-width="0.9" />
<line x1="582.30" y1="226.62" x2="585.80" y2="226.62" stroke="#6e6e6e" stroke-width="0.9" />
<line x1="583.80" y1="237.15" x2="585.80" y2="237.15" stroke="#6e6e6e" stroke-width="0.9" />
<line x1="582.30" y1="247.68" x2="585.80" y2="247.68" stroke="#6e6e6e" stroke-width="0.9" />
<line x1="583.80" y1="258.21" x2="585.80" y2="258.21" stroke="#6e6e6e" stroke-width="0.9" />
<line x1="582.30" y1="268.74" x2="585.80" y2="268.74" stroke="#6e6e6e" stroke-width="0.9" />
<line x1="583.80" y1="279.27" x2="585.80" y2="279.27" stroke="#6e6e6e" stroke-width="0.9" />
<line x1="582.30" y1="289.80" x2="585.80" y2="289.80" stroke="#6e6e6e" stroke-width="0.9" />
<line x1="581.00" y1="289.80" x2="685.00" y2="289.80" stroke="#6e6e6e" stroke-width="0.9" />
<line x1="586.20" y1="289.80" x2="586.20" y2="293.10" stroke="#6e6e6e" stroke-width="0.9" />
<text x="586.20" y="303.40" text-anchor="middle" >0</text>
<line x1="604.30" y1="289.80" x2="604.30" y2="293.10" stroke="#6e6e6e" stroke-width="0.9" />
<text x="604.30" y="303.40" text-anchor="middle" >20</text>
<line x1="622.40" y1="289.80" x2="622.40" y2="293.10" stroke="#6e6e6e" stroke-width="0.9" />
<text x="622.40" y="303.40" text-anchor="middle" >40</text>
<line x1="640.50" y1="289.80" x2="640.50" y2="293.10" stroke="#6e6e6e" stroke-width="0.9" />
<text x="640.50" y="303.40" text-anchor="middle" >60</text>
<line x1="658.60" y1="289.80" x2="658.60" y2="293.10" stroke="#6e6e6e" stroke-width="0.9" />
<text x="658.60" y="303.40" text-anchor="middle" >80</text>
<line x1="676.70" y1="289.80" x2="676.70" y2="293.10" stroke="#6e6e6e" stroke-width="0.9" />
<text x="676.70" y="303.40" text-anchor="middle" >100</text>
<text x="468.20" y="187.20" text-anchor="end" >2,500</text>
<text x="468.20" y="208.26" text-anchor="end" >2,000</text>
<text x="468.20" y="229.32" text-anchor="end" >1,500</text>
<text x="468.20" y="250.38" text-anchor="end" >1,000</text>
<text x="468.20" y="271.44" text-anchor="end" >500</text>
<text x="468.20" y="292.50" text-anchor="end" >0</text>
<text transform="translate(440.6,236.6) rotate(-90)" text-anchor="middle">Tumour volume (mm<tspan dy="-2.6" style="font-size:5.4px">3</tspan><tspan dy="2.6">)</tspan></text>
<line x1="475.50" y1="313.80" x2="511.60" y2="313.80" stroke="#6a6a6a" stroke-width="1.25" />
<line x1="475.50" y1="311.60" x2="475.50" y2="316.00" stroke="#222" stroke-width="1.1" />
<text x="515.10" y="316.50" >Time after EDV/AAV treatment (days)</text>
<line x1="648.50" y1="313.80" x2="684.00" y2="313.80" stroke="#6a6a6a" stroke-width="1.25" />
<line x1="684.00" y1="311.60" x2="684.00" y2="316.00" stroke="#222" stroke-width="1.1" />
<text x="650.70" y="280.70" >CR 5/6</text>
<path d="M476.10,285.00 L479.20,283.00 L482.00,280.00 L485.30,273.50 L488.00,262.00 L491.40,248.00 L494.70,218.20 L497.30,206.00 L500.70,197.20" stroke="#9e9e9e" stroke-width="0.9" fill="none"  stroke-linejoin="round"/>
<circle cx="476.10" cy="285.00" r="1.55" fill="#9e9e9e"/>
<circle cx="479.20" cy="283.00" r="1.55" fill="#9e9e9e"/>
<circle cx="482.00" cy="280.00" r="1.55" fill="#9e9e9e"/>
<circle cx="485.30" cy="273.50" r="1.55" fill="#9e9e9e"/>
<circle cx="488.00" cy="262.00" r="1.55" fill="#9e9e9e"/>
<circle cx="491.40" cy="248.00" r="1.55" fill="#9e9e9e"/>
<circle cx="494.70" cy="218.20" r="1.55" fill="#9e9e9e"/>
<circle cx="497.30" cy="206.00" r="1.55" fill="#9e9e9e"/>
<circle cx="500.70" cy="197.20" r="1.55" fill="#9e9e9e"/>
<path d="M476.10,286.00 L479.20,284.00 L482.00,278.00 L485.30,270.00 L488.00,250.40 L491.40,239.20 L494.50,231.00 L496.90,203.20" stroke="#9e9e9e" stroke-width="0.9" fill="none"  stroke-linejoin="round"/>
<circle cx="476.10" cy="286.00" r="1.55" fill="#9e9e9e"/>
<circle cx="479.20" cy="284.00" r="1.55" fill="#9e9e9e"/>
<circle cx="482.00" cy="278.00" r="1.55" fill="#9e9e9e"/>
<circle cx="485.30" cy="270.00" r="1.55" fill="#9e9e9e"/>
<circle cx="488.00" cy="250.40" r="1.55" fill="#9e9e9e"/>
<circle cx="491.40" cy="239.20" r="1.55" fill="#9e9e9e"/>
<circle cx="494.50" cy="231.00" r="1.55" fill="#9e9e9e"/>
<circle cx="496.90" cy="203.20" r="1.55" fill="#9e9e9e"/>
<path d="M476.10,284.20 L479.20,282.70 L482.00,281.00 L485.30,275.90 L488.00,266.00 L491.40,256.00 L494.10,233.30 L497.30,225.80 L500.70,214.50 L504.50,206.00" stroke="#9e9e9e" stroke-width="0.9" fill="none"  stroke-linejoin="round"/>
<circle cx="476.10" cy="284.20" r="1.55" fill="#9e9e9e"/>
<circle cx="479.20" cy="282.70" r="1.55" fill="#9e9e9e"/>
<circle cx="482.00" cy="281.00" r="1.55" fill="#9e9e9e"/>
<circle cx="485.30" cy="275.90" r="1.55" fill="#9e9e9e"/>
<circle cx="488.00" cy="266.00" r="1.55" fill="#9e9e9e"/>
<circle cx="491.40" cy="256.00" r="1.55" fill="#9e9e9e"/>
<circle cx="494.10" cy="233.30" r="1.55" fill="#9e9e9e"/>
<circle cx="497.30" cy="225.80" r="1.55" fill="#9e9e9e"/>
<circle cx="500.70" cy="214.50" r="1.55" fill="#9e9e9e"/>
<circle cx="504.50" cy="206.00" r="1.55" fill="#9e9e9e"/>
<path d="M476.10,285.50 L479.20,283.50 L481.20,277.30 L485.30,276.00 L488.00,279.00 L491.40,264.70 L494.10,245.50 L497.30,226.00 L500.70,214.50" stroke="#9e9e9e" stroke-width="0.9" fill="none"  stroke-linejoin="round"/>
<circle cx="476.10" cy="285.50" r="1.55" fill="#9e9e9e"/>
<circle cx="479.20" cy="283.50" r="1.55" fill="#9e9e9e"/>
<circle cx="481.20" cy="277.30" r="1.55" fill="#9e9e9e"/>
<circle cx="485.30" cy="276.00" r="1.55" fill="#9e9e9e"/>
<circle cx="488.00" cy="279.00" r="1.55" fill="#9e9e9e"/>
<circle cx="491.40" cy="264.70" r="1.55" fill="#9e9e9e"/>
<circle cx="494.10" cy="245.50" r="1.55" fill="#9e9e9e"/>
<circle cx="497.30" cy="226.00" r="1.55" fill="#9e9e9e"/>
<circle cx="500.70" cy="214.50" r="1.55" fill="#9e9e9e"/>
<path d="M476.10,284.80 L479.20,282.20 L482.00,279.00 L485.30,268.80 L488.00,258.00 L491.40,244.00 L492.20,238.90 L494.70,218.20" stroke="#9e9e9e" stroke-width="0.9" fill="none"  stroke-linejoin="round"/>
<circle cx="476.10" cy="284.80" r="1.55" fill="#9e9e9e"/>
<circle cx="479.20" cy="282.20" r="1.55" fill="#9e9e9e"/>
<circle cx="482.00" cy="279.00" r="1.55" fill="#9e9e9e"/>
<circle cx="485.30" cy="268.80" r="1.55" fill="#9e9e9e"/>
<circle cx="488.00" cy="258.00" r="1.55" fill="#9e9e9e"/>
<circle cx="491.40" cy="244.00" r="1.55" fill="#9e9e9e"/>
<circle cx="492.20" cy="238.90" r="1.55" fill="#9e9e9e"/>
<circle cx="494.70" cy="218.20" r="1.55" fill="#9e9e9e"/>
<path d="M585.60,285.50 L588.32,284.00 L591.03,277.00 L594.65,268.00 L597.37,264.00 L600.99,268.50 L603.70,275.00 L607.32,284.60 L610.04,286.70 L613.65,287.80 L616.37,288.20 L619.99,288.40 L622.71,288.40 L626.33,288.50 L629.04,288.60 L632.66,288.60 L635.38,288.60 L639.00,288.60 L641.71,288.70 L645.33,288.70 L648.05,288.70 L651.66,288.60 L654.38,288.60 L658.00,288.40 L660.72,288.30 L664.34,288.20 L667.05,288.00 L670.67,287.80 L673.38,287.20 L676.10,284.00" stroke="#c1393f" stroke-width="0.9" fill="none"  stroke-linejoin="round"/>
<circle cx="585.60" cy="285.50" r="1.6" fill="#c1393f"/>
<circle cx="588.32" cy="284.00" r="1.6" fill="#c1393f"/>
<circle cx="591.03" cy="277.00" r="1.6" fill="#c1393f"/>
<circle cx="594.65" cy="268.00" r="1.6" fill="#c1393f"/>
<circle cx="597.37" cy="264.00" r="1.6" fill="#c1393f"/>
<circle cx="600.99" cy="268.50" r="1.6" fill="#c1393f"/>
<circle cx="603.70" cy="275.00" r="1.6" fill="#c1393f"/>
<circle cx="607.32" cy="284.60" r="1.6" fill="#c1393f"/>
<circle cx="610.04" cy="286.70" r="1.6" fill="#c1393f"/>
<circle cx="613.65" cy="287.80" r="1.6" fill="#c1393f"/>
<circle cx="616.37" cy="288.20" r="1.6" fill="#c1393f"/>
<circle cx="619.99" cy="288.40" r="1.6" fill="#c1393f"/>
<circle cx="622.71" cy="288.40" r="1.6" fill="#c1393f"/>
<circle cx="626.33" cy="288.50" r="1.6" fill="#c1393f"/>
<circle cx="629.04" cy="288.60" r="1.6" fill="#c1393f"/>
<circle cx="632.66" cy="288.60" r="1.6" fill="#c1393f"/>
<circle cx="635.38" cy="288.60" r="1.6" fill="#c1393f"/>
<circle cx="639.00" cy="288.60" r="1.6" fill="#c1393f"/>
<circle cx="641.71" cy="288.70" r="1.6" fill="#c1393f"/>
<circle cx="645.33" cy="288.70" r="1.6" fill="#c1393f"/>
<circle cx="648.05" cy="288.70" r="1.6" fill="#c1393f"/>
<circle cx="651.66" cy="288.60" r="1.6" fill="#c1393f"/>
<circle cx="654.38" cy="288.60" r="1.6" fill="#c1393f"/>
<circle cx="658.00" cy="288.40" r="1.6" fill="#c1393f"/>
<circle cx="660.72" cy="288.30" r="1.6" fill="#c1393f"/>
<circle cx="664.34" cy="288.20" r="1.6" fill="#c1393f"/>
<circle cx="667.05" cy="288.00" r="1.6" fill="#c1393f"/>
<circle cx="670.67" cy="287.80" r="1.6" fill="#c1393f"/>
<circle cx="673.38" cy="287.20" r="1.6" fill="#c1393f"/>
<circle cx="676.10" cy="284.00" r="1.6" fill="#c1393f"/>
<path d="M585.60,286.70 L588.32,285.50 L591.03,282.00 L594.65,276.00 L597.37,274.00 L600.99,274.50 L603.70,279.00 L607.32,286.10 L610.04,287.30 L613.65,288.20 L616.37,288.50 L619.99,288.60 L622.71,288.60 L626.33,288.60 L629.04,288.70 L632.66,288.60 L635.38,288.60 L639.00,288.60 L641.71,288.70 L645.33,288.70 L648.05,288.70 L651.66,288.60 L654.38,288.60 L658.00,288.40 L660.72,288.50 L664.34,288.40 L667.05,288.20 L670.67,288.10 L673.38,287.60 L676.10,285.80" stroke="#c1393f" stroke-width="0.9" fill="none"  stroke-linejoin="round"/>
<circle cx="585.60" cy="286.70" r="1.6" fill="#c1393f"/>
<circle cx="588.32" cy="285.50" r="1.6" fill="#c1393f"/>
<circle cx="591.03" cy="282.00" r="1.6" fill="#c1393f"/>
<circle cx="594.65" cy="276.00" r="1.6" fill="#c1393f"/>
<circle cx="597.37" cy="274.00" r="1.6" fill="#c1393f"/>
<circle cx="600.99" cy="274.50" r="1.6" fill="#c1393f"/>
<circle cx="603.70" cy="279.00" r="1.6" fill="#c1393f"/>
<circle cx="607.32" cy="286.10" r="1.6" fill="#c1393f"/>
<circle cx="610.04" cy="287.30" r="1.6" fill="#c1393f"/>
<circle cx="613.65" cy="288.20" r="1.6" fill="#c1393f"/>
<circle cx="616.37" cy="288.50" r="1.6" fill="#c1393f"/>
<circle cx="619.99" cy="288.60" r="1.6" fill="#c1393f"/>
<circle cx="622.71" cy="288.60" r="1.6" fill="#c1393f"/>
<circle cx="626.33" cy="288.60" r="1.6" fill="#c1393f"/>
<circle cx="629.04" cy="288.70" r="1.6" fill="#c1393f"/>
<circle cx="632.66" cy="288.60" r="1.6" fill="#c1393f"/>
<circle cx="635.38" cy="288.60" r="1.6" fill="#c1393f"/>
<circle cx="639.00" cy="288.60" r="1.6" fill="#c1393f"/>
<circle cx="641.71" cy="288.70" r="1.6" fill="#c1393f"/>
<circle cx="645.33" cy="288.70" r="1.6" fill="#c1393f"/>
<circle cx="648.05" cy="288.70" r="1.6" fill="#c1393f"/>
<circle cx="651.66" cy="288.60" r="1.6" fill="#c1393f"/>
<circle cx="654.38" cy="288.60" r="1.6" fill="#c1393f"/>
<circle cx="658.00" cy="288.40" r="1.6" fill="#c1393f"/>
<circle cx="660.72" cy="288.50" r="1.6" fill="#c1393f"/>
<circle cx="664.34" cy="288.40" r="1.6" fill="#c1393f"/>
<circle cx="667.05" cy="288.20" r="1.6" fill="#c1393f"/>
<circle cx="670.67" cy="288.10" r="1.6" fill="#c1393f"/>
<circle cx="673.38" cy="287.60" r="1.6" fill="#c1393f"/>
<circle cx="676.10" cy="285.80" r="1.6" fill="#c1393f"/>
<path d="M585.60,284.70 L588.32,284.50 L591.03,280.00 L594.65,272.00 L597.37,269.00 L600.99,276.50 L603.70,280.00 L607.32,285.60 L610.04,287.20 L613.65,288.10 L616.37,288.40 L619.99,288.60 L622.71,288.50 L626.33,288.60 L629.04,288.60 L632.66,288.60 L635.38,288.60 L639.00,288.60 L641.71,288.70 L645.33,288.70 L648.05,288.70 L651.66,288.60 L654.38,288.60 L658.00,288.40 L660.72,288.30 L664.34,288.20 L667.05,288.10 L670.67,288.00 L673.38,287.80 L676.10,287.00" stroke="#c1393f" stroke-width="0.9" fill="none"  stroke-linejoin="round"/>
<circle cx="585.60" cy="284.70" r="1.6" fill="#c1393f"/>
<circle cx="588.32" cy="284.50" r="1.6" fill="#c1393f"/>
<circle cx="591.03" cy="280.00" r="1.6" fill="#c1393f"/>
<circle cx="594.65" cy="272.00" r="1.6" fill="#c1393f"/>
<circle cx="597.37" cy="269.00" r="1.6" fill="#c1393f"/>
<circle cx="600.99" cy="276.50" r="1.6" fill="#c1393f"/>
<circle cx="603.70" cy="280.00" r="1.6" fill="#c1393f"/>
<circle cx="607.32" cy="285.60" r="1.6" fill="#c1393f"/>
<circle cx="610.04" cy="287.20" r="1.6" fill="#c1393f"/>
<circle cx="613.65" cy="288.10" r="1.6" fill="#c1393f"/>
<circle cx="616.37" cy="288.40" r="1.6" fill="#c1393f"/>
<circle cx="619.99" cy="288.60" r="1.6" fill="#c1393f"/>
<circle cx="622.71" cy="288.50" r="1.6" fill="#c1393f"/>
<circle cx="626.33" cy="288.60" r="1.6" fill="#c1393f"/>
<circle cx="629.04" cy="288.60" r="1.6" fill="#c1393f"/>
<circle cx="632.66" cy="288.60" r="1.6" fill="#c1393f"/>
<circle cx="635.38" cy="288.60" r="1.6" fill="#c1393f"/>
<circle cx="639.00" cy="288.60" r="1.6" fill="#c1393f"/>
<circle cx="641.71" cy="288.70" r="1.6" fill="#c1393f"/>
<circle cx="645.33" cy="288.70" r="1.6" fill="#c1393f"/>
<circle cx="648.05" cy="288.70" r="1.6" fill="#c1393f"/>
<circle cx="651.66" cy="288.60" r="1.6" fill="#c1393f"/>
<circle cx="654.38" cy="288.60" r="1.6" fill="#c1393f"/>
<circle cx="658.00" cy="288.40" r="1.6" fill="#c1393f"/>
<circle cx="660.72" cy="288.30" r="1.6" fill="#c1393f"/>
<circle cx="664.34" cy="288.20" r="1.6" fill="#c1393f"/>
<circle cx="667.05" cy="288.10" r="1.6" fill="#c1393f"/>
<circle cx="670.67" cy="288.00" r="1.6" fill="#c1393f"/>
<circle cx="673.38" cy="287.80" r="1.6" fill="#c1393f"/>
<circle cx="676.10" cy="287.00" r="1.6" fill="#c1393f"/>
<path d="M585.60,286.30 L588.32,285.00 L591.03,283.00 L594.65,279.00 L597.37,277.00 L600.99,280.50 L603.70,281.00 L607.32,285.20 L610.04,287.10 L613.65,288.00 L616.37,288.40 L619.99,288.50 L622.71,288.50 L626.33,288.50 L629.04,288.60 L632.66,288.60 L635.38,288.60 L639.00,288.60 L641.71,288.70 L645.33,288.70 L648.05,288.70 L651.66,288.60 L654.38,288.60 L658.00,288.50 L660.72,288.50 L664.34,288.50 L667.05,288.40 L670.67,288.40 L673.38,288.20 L676.10,286.50" stroke="#c1393f" stroke-width="0.9" fill="none"  stroke-linejoin="round"/>
<circle cx="585.60" cy="286.30" r="1.6" fill="#c1393f"/>
<circle cx="588.32" cy="285.00" r="1.6" fill="#c1393f"/>
<circle cx="591.03" cy="283.00" r="1.6" fill="#c1393f"/>
<circle cx="594.65" cy="279.00" r="1.6" fill="#c1393f"/>
<circle cx="597.37" cy="277.00" r="1.6" fill="#c1393f"/>
<circle cx="600.99" cy="280.50" r="1.6" fill="#c1393f"/>
<circle cx="603.70" cy="281.00" r="1.6" fill="#c1393f"/>
<circle cx="607.32" cy="285.20" r="1.6" fill="#c1393f"/>
<circle cx="610.04" cy="287.10" r="1.6" fill="#c1393f"/>
<circle cx="613.65" cy="288.00" r="1.6" fill="#c1393f"/>
<circle cx="616.37" cy="288.40" r="1.6" fill="#c1393f"/>
<circle cx="619.99" cy="288.50" r="1.6" fill="#c1393f"/>
<circle cx="622.71" cy="288.50" r="1.6" fill="#c1393f"/>
<circle cx="626.33" cy="288.50" r="1.6" fill="#c1393f"/>
<circle cx="629.04" cy="288.60" r="1.6" fill="#c1393f"/>
<circle cx="632.66" cy="288.60" r="1.6" fill="#c1393f"/>
<circle cx="635.38" cy="288.60" r="1.6" fill="#c1393f"/>
<circle cx="639.00" cy="288.60" r="1.6" fill="#c1393f"/>
<circle cx="641.71" cy="288.70" r="1.6" fill="#c1393f"/>
<circle cx="645.33" cy="288.70" r="1.6" fill="#c1393f"/>
<circle cx="648.05" cy="288.70" r="1.6" fill="#c1393f"/>
<circle cx="651.66" cy="288.60" r="1.6" fill="#c1393f"/>
<circle cx="654.38" cy="288.60" r="1.6" fill="#c1393f"/>
<circle cx="658.00" cy="288.50" r="1.6" fill="#c1393f"/>
<circle cx="660.72" cy="288.50" r="1.6" fill="#c1393f"/>
<circle cx="664.34" cy="288.50" r="1.6" fill="#c1393f"/>
<circle cx="667.05" cy="288.40" r="1.6" fill="#c1393f"/>
<circle cx="670.67" cy="288.40" r="1.6" fill="#c1393f"/>
<circle cx="673.38" cy="288.20" r="1.6" fill="#c1393f"/>
<circle cx="676.10" cy="286.50" r="1.6" fill="#c1393f"/>
<path d="M585.60,285.90 L588.32,283.50 L591.03,279.00 L594.65,274.00 L597.37,272.00 L600.99,272.50 L603.70,278.00 L607.32,285.00 L610.04,286.90 L613.65,288.00 L616.37,288.30 L619.99,288.50 L622.71,288.40 L626.33,288.50 L629.04,288.60 L632.66,288.60 L635.38,288.60 L639.00,288.60 L641.71,288.70 L645.33,288.70 L648.05,288.70 L651.66,288.60 L654.38,288.60 L658.00,288.40 L660.72,288.30 L664.34,288.30 L667.05,288.20 L670.67,288.20 L673.38,288.00 L676.10,285.00" stroke="#c1393f" stroke-width="0.9" fill="none"  stroke-linejoin="round"/>
<circle cx="585.60" cy="285.90" r="1.6" fill="#c1393f"/>
<circle cx="588.32" cy="283.50" r="1.6" fill="#c1393f"/>
<circle cx="591.03" cy="279.00" r="1.6" fill="#c1393f"/>
<circle cx="594.65" cy="274.00" r="1.6" fill="#c1393f"/>
<circle cx="597.37" cy="272.00" r="1.6" fill="#c1393f"/>
<circle cx="600.99" cy="272.50" r="1.6" fill="#c1393f"/>
<circle cx="603.70" cy="278.00" r="1.6" fill="#c1393f"/>
<circle cx="607.32" cy="285.00" r="1.6" fill="#c1393f"/>
<circle cx="610.04" cy="286.90" r="1.6" fill="#c1393f"/>
<circle cx="613.65" cy="288.00" r="1.6" fill="#c1393f"/>
<circle cx="616.37" cy="288.30" r="1.6" fill="#c1393f"/>
<circle cx="619.99" cy="288.50" r="1.6" fill="#c1393f"/>
<circle cx="622.71" cy="288.40" r="1.6" fill="#c1393f"/>
<circle cx="626.33" cy="288.50" r="1.6" fill="#c1393f"/>
<circle cx="629.04" cy="288.60" r="1.6" fill="#c1393f"/>
<circle cx="632.66" cy="288.60" r="1.6" fill="#c1393f"/>
<circle cx="635.38" cy="288.60" r="1.6" fill="#c1393f"/>
<circle cx="639.00" cy="288.60" r="1.6" fill="#c1393f"/>
<circle cx="641.71" cy="288.70" r="1.6" fill="#c1393f"/>
<circle cx="645.33" cy="288.70" r="1.6" fill="#c1393f"/>
<circle cx="648.05" cy="288.70" r="1.6" fill="#c1393f"/>
<circle cx="651.66" cy="288.60" r="1.6" fill="#c1393f"/>
<circle cx="654.38" cy="288.60" r="1.6" fill="#c1393f"/>
<circle cx="658.00" cy="288.40" r="1.6" fill="#c1393f"/>
<circle cx="660.72" cy="288.30" r="1.6" fill="#c1393f"/>
<circle cx="664.34" cy="288.30" r="1.6" fill="#c1393f"/>
<circle cx="667.05" cy="288.20" r="1.6" fill="#c1393f"/>
<circle cx="670.67" cy="288.20" r="1.6" fill="#c1393f"/>
<circle cx="673.38" cy="288.00" r="1.6" fill="#c1393f"/>
<circle cx="676.10" cy="285.00" r="1.6" fill="#c1393f"/>
<path d="M585.60,287.00 L588.32,284.20 L591.03,284.00 L594.65,277.00 L597.37,270.00 L600.99,277.50 L603.70,282.00 L607.32,286.60 L610.04,287.70 L613.65,288.30 L616.37,288.50 L619.99,288.60 L622.71,288.60 L626.33,288.60 L629.04,288.60 L632.66,288.60 L635.38,288.60 L639.00,288.60 L641.71,288.70 L645.33,288.70 L648.05,288.70 L651.66,288.60 L654.38,288.60 L658.00,288.40 L660.72,288.30 L664.34,288.20 L667.05,288.10 L670.67,288.10 L673.38,287.70 L676.10,288.00" stroke="#c1393f" stroke-width="0.9" fill="none"  stroke-linejoin="round"/>
<circle cx="585.60" cy="287.00" r="1.6" fill="#c1393f"/>
<circle cx="588.32" cy="284.20" r="1.6" fill="#c1393f"/>
<circle cx="591.03" cy="284.00" r="1.6" fill="#c1393f"/>
<circle cx="594.65" cy="277.00" r="1.6" fill="#c1393f"/>
<circle cx="597.37" cy="270.00" r="1.6" fill="#c1393f"/>
<circle cx="600.99" cy="277.50" r="1.6" fill="#c1393f"/>
<circle cx="603.70" cy="282.00" r="1.6" fill="#c1393f"/>
<circle cx="607.32" cy="286.60" r="1.6" fill="#c1393f"/>
<circle cx="610.04" cy="287.70" r="1.6" fill="#c1393f"/>
<circle cx="613.65" cy="288.30" r="1.6" fill="#c1393f"/>
<circle cx="616.37" cy="288.50" r="1.6" fill="#c1393f"/>
<circle cx="619.99" cy="288.60" r="1.6" fill="#c1393f"/>
<circle cx="622.71" cy="288.60" r="1.6" fill="#c1393f"/>
<circle cx="626.33" cy="288.60" r="1.6" fill="#c1393f"/>
<circle cx="629.04" cy="288.60" r="1.6" fill="#c1393f"/>
<circle cx="632.66" cy="288.60" r="1.6" fill="#c1393f"/>
<circle cx="635.38" cy="288.60" r="1.6" fill="#c1393f"/>
<circle cx="639.00" cy="288.60" r="1.6" fill="#c1393f"/>
<circle cx="641.71" cy="288.70" r="1.6" fill="#c1393f"/>
<circle cx="645.33" cy="288.70" r="1.6" fill="#c1393f"/>
<circle cx="648.05" cy="288.70" r="1.6" fill="#c1393f"/>
<circle cx="651.66" cy="288.60" r="1.6" fill="#c1393f"/>
<circle cx="654.38" cy="288.60" r="1.6" fill="#c1393f"/>
<circle cx="658.00" cy="288.40" r="1.6" fill="#c1393f"/>
<circle cx="660.72" cy="288.30" r="1.6" fill="#c1393f"/>
<circle cx="664.34" cy="288.20" r="1.6" fill="#c1393f"/>
<circle cx="667.05" cy="288.10" r="1.6" fill="#c1393f"/>
<circle cx="670.67" cy="288.10" r="1.6" fill="#c1393f"/>
<circle cx="673.38" cy="287.70" r="1.6" fill="#c1393f"/>
<circle cx="676.10" cy="288.00" r="1.6" fill="#c1393f"/>
</svg></body></html>
